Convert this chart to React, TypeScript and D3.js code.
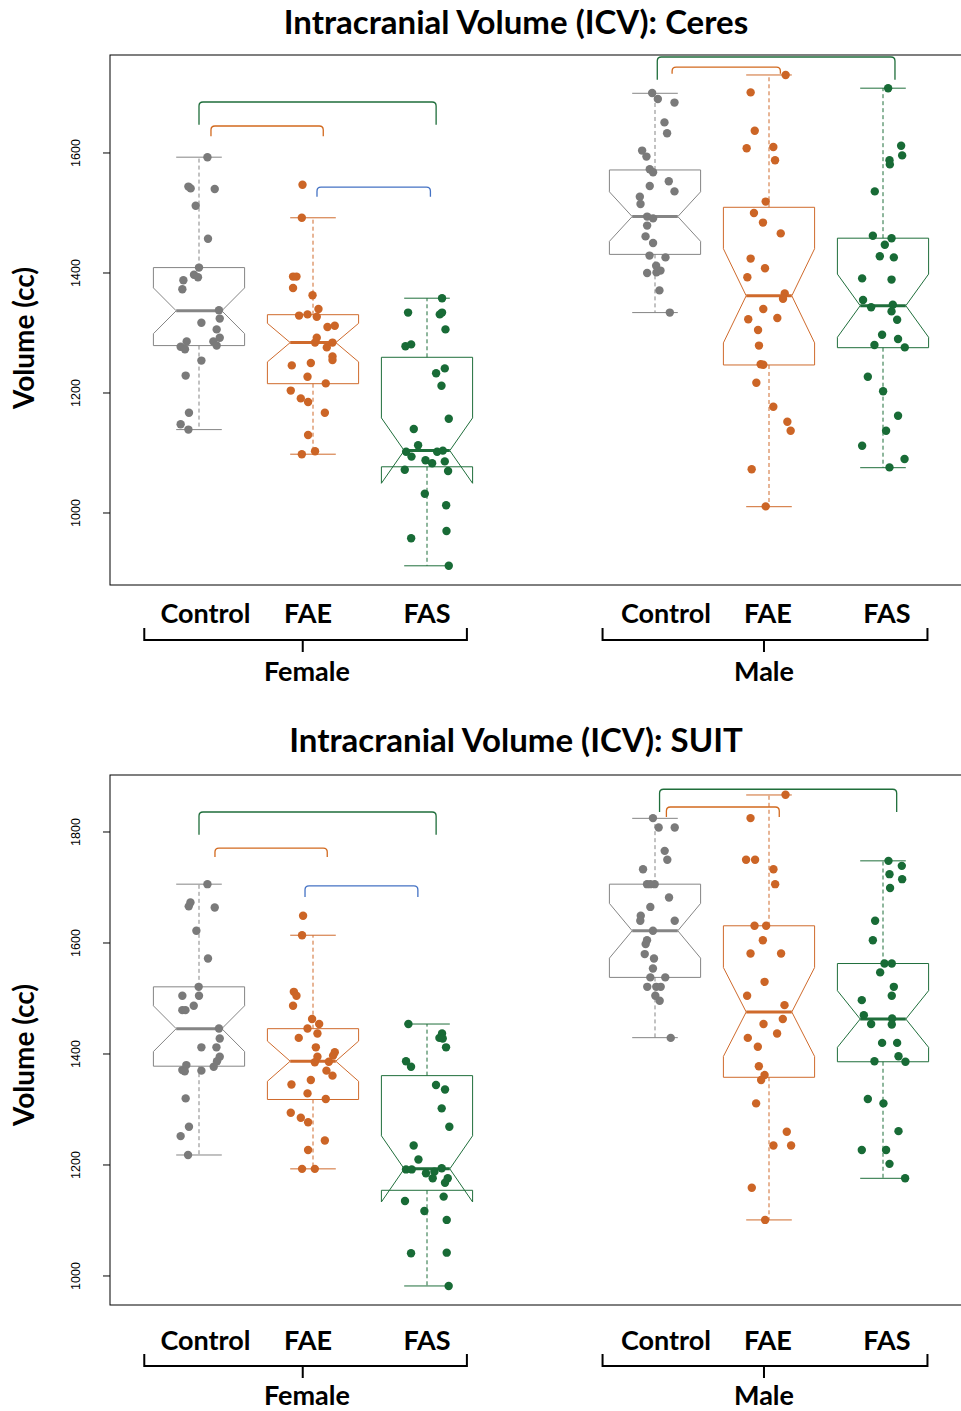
import React from "react";
import * as d3 from "d3";

// ---- categories ----
const GROUPS = ["Control", "FAE", "FAS"];
const SEXES = ["Female", "Male"];
const GROUP_POS = [1, 2, 3, 5, 6, 7];
const GROUP_COLORS = ["#7a7a7a", "#cc6526", "#186b36"];
const BOX_COLORS = ["#858585", "#cf6a2c", "#1f6e3b"];

// ---- Ceres: individual volumes (cc) and horizontal jitter (category units) ----
const ceresFemaleControl = [1593, 1544, 1541, 1540, 1512, 1457, 1409, 1397, 1393, 1388, 1373, 1338, 1324, 1317, 1306, 1292, 1286, 1279, 1286, 1277, 1273, 1254, 1229, 1167, 1148, 1139];
const ceresFemaleControlJitter = [0.074, -0.093, -0.073, 0.138, -0.029, 0.079, 0, -0.044, -0.009, -0.137, -0.146, 0.175, 0.182, 0.021, 0.155, 0.182, 0.126, 0.155, -0.108, -0.161, -0.123, 0.021, -0.117, -0.088, -0.161, -0.093];
const ceresFemaleFAE = [1547, 1492, 1394, 1394, 1375, 1363, 1340, 1329, 1331, 1327, 1310, 1312, 1292, 1284, 1284, 1276, 1261, 1255, 1246, 1250, 1227, 1216, 1204, 1191, 1185, 1167, 1130, 1103, 1098];
const ceresFemaleFAEJitter = [-0.092, -0.098, -0.175, -0.145, -0.175, -0.004, 0.048, -0.122, -0.048, 0.033, 0.127, 0.191, 0.033, 0.018, 0.171, 0.121, 0.171, 0.171, -0.186, -0.019, -0.048, 0.112, -0.195, -0.107, -0.043, 0.104, -0.043, 0.018, -0.098];
const ceresFemaleFAS = [1358, 1334, 1331, 1334, 1306, 1278, 1281, 1241, 1233, 1212, 1157, 1140, 1113, 1102, 1094, 1102, 1104, 1088, 1083, 1086, 1072, 1070, 1032, 1013, 970, 958, 912];
const ceresFemaleFASJitter = [0.132, -0.166, 0.112, 0.132, 0.162, -0.189, -0.139, 0.156, 0.08, 0.127, 0.191, -0.116, -0.078, -0.183, -0.136, 0.089, 0.139, -0.013, 0.045, 0.156, -0.195, 0.185, -0.019, 0.168, 0.171, -0.139, 0.191];
const ceresMaleControl = [1700, 1690, 1684, 1651, 1633, 1604, 1594, 1573, 1568, 1553, 1545, 1536, 1527, 1515, 1494, 1491, 1479, 1461, 1450, 1429, 1426, 1412, 1404, 1401, 1400, 1371, 1334];
const ceresMaleControlJitter = [-0.025, 0.025, 0.171, 0.083, 0.106, -0.113, -0.075, -0.046, -0.017, 0.121, -0.046, 0.171, -0.133, -0.127, -0.069, -0.017, -0.069, -0.083, -0.017, -0.048, 0.092, 0.01, 0.048, 0.013, -0.069, 0.039, 0.13];
const ceresMaleFAE = [1730, 1701, 1637, 1608, 1610, 1588, 1519, 1500, 1484, 1466, 1424, 1408, 1393, 1366, 1357, 1340, 1323, 1325, 1305, 1279, 1248, 1247, 1217, 1177, 1152, 1137, 1073, 1011];
const ceresMaleFAEJitter = [0.146, -0.161, -0.125, -0.196, 0.038, 0.053, -0.029, -0.132, -0.053, 0.103, -0.161, -0.035, -0.19, 0.138, 0.123, -0.05, -0.182, 0.073, -0.096, -0.088, -0.073, -0.05, -0.111, 0.038, 0.161, 0.19, -0.152, -0.029];
const ceresMaleFAS = [1708, 1612, 1596, 1588, 1581, 1536, 1462, 1458, 1447, 1428, 1426, 1391, 1389, 1355, 1343, 1347, 1336, 1322, 1297, 1290, 1280, 1276, 1227, 1203, 1162, 1137, 1112, 1090, 1076];
const ceresMaleFASJitter = [0.045, 0.159, 0.168, 0.057, 0.06, -0.072, -0.089, 0.075, 0.016, -0.028, 0.095, -0.183, 0.075, -0.175, -0.104, 0.086, 0.075, 0.124, -0.008, 0.132, -0.075, 0.191, -0.133, 0.001, 0.132, 0.027, -0.183, 0.189, 0.057];

// box statistics: [lower whisker, Q1, median, Q3, upper whisker]
const ceresBoxStats = [
  [1139, 1279, 1337, 1409, 1593],
  [1098, 1215.5, 1284, 1330.5, 1492],
  [912, 1077, 1104, 1259.5, 1358],
  [1334, 1431, 1494, 1571.7, 1699.5],
  [1010.5, 1246.7, 1362, 1509.5, 1730],
  [1075.5, 1275.5, 1345.5, 1458, 1708],
];
const ceresN = [29, 32, 28, 29, 28, 30];
const ceresTicks = [1000, 1200, 1400, 1600];

// ---- SUIT ----
const suitFemaleControl = [1706, 1673, 1666, 1664, 1622, 1572, 1521, 1505, 1505, 1487, 1479, 1479, 1446, 1428, 1412, 1412, 1395, 1387, 1377, 1380, 1371, 1369, 1370, 1320, 1269, 1252, 1218];
const suitFemaleControlJitter = [0.074, -0.075, -0.09, 0.138, -0.023, 0.079, -0.003, -0.146, 0, -0.046, -0.146, -0.119, 0.175, 0.182, 0.021, 0.153, 0.182, 0.158, 0.129, -0.111, -0.146, -0.125, 0.021, -0.117, -0.088, -0.161, -0.096];
const suitFemaleFAE = [1649, 1614, 1512, 1505, 1487, 1463, 1454, 1446, 1437, 1429, 1412, 1403, 1397, 1395, 1385, 1386, 1370, 1361, 1345, 1353, 1329, 1319, 1294, 1285, 1277, 1244, 1227, 1193, 1193];
const suitFemaleFAEJitter = [-0.087, -0.096, -0.168, -0.145, -0.175, -0.008, 0.054, -0.048, 0.039, -0.125, 0.025, 0.191, 0.176, 0.039, 0.016, 0.139, 0.118, 0.171, -0.189, -0.019, -0.048, 0.112, -0.195, -0.107, -0.043, 0.104, -0.043, -0.096, 0.016];
const suitFemaleFAS = [1454, 1437, 1429, 1428, 1412, 1387, 1377, 1344, 1336, 1302, 1269, 1235, 1210, 1192, 1192, 1194, 1185, 1188, 1176, 1176, 1168, 1143, 1135, 1117, 1101, 1041, 1042, 982];
const suitFemaleFASJitter = [-0.163, 0.132, 0.109, 0.138, 0.167, -0.184, -0.14, 0.079, 0.158, 0.129, 0.196, -0.117, -0.075, -0.184, -0.134, 0.129, -0.009, 0.065, 0.05, 0.182, 0.158, 0.146, -0.193, -0.023, 0.173, -0.14, 0.173, 0.19];
const suitMaleControl = [1825, 1808, 1808, 1766, 1750, 1733, 1706, 1706, 1706, 1682, 1665, 1649, 1640, 1640, 1622, 1605, 1598, 1580, 1572, 1554, 1538, 1538, 1521, 1521, 1521, 1505, 1496, 1429];
const suitMaleControlJitter = [-0.018, 0.032, 0.173, 0.085, 0.108, -0.105, -0.07, -0.003, -0.041, 0.123, -0.041, -0.125, -0.129, 0.173, -0.018, -0.07, -0.082, -0.09, -0.009, -0.018, -0.041, 0.09, -0.068, 0.011, 0.05, 0.003, 0.041, 0.138];
const suitMaleFAE = [1867, 1825, 1750, 1750, 1733, 1706, 1631, 1631, 1605, 1581, 1581, 1530, 1505, 1488, 1463, 1454, 1437, 1429, 1413, 1378, 1362, 1353, 1311, 1260, 1235, 1235, 1159, 1101];
const suitMaleFAEJitter = [0.145, -0.162, -0.201, -0.122, 0.039, 0.054, -0.127, -0.025, -0.054, -0.162, 0.106, -0.039, -0.192, 0.136, 0.121, -0.048, 0.071, -0.186, -0.098, -0.089, -0.039, -0.069, -0.113, 0.156, 0.039, 0.194, -0.151, -0.034];
const suitMaleFAS = [1748, 1739, 1724, 1715, 1699, 1640, 1605, 1563, 1563, 1547, 1521, 1505, 1497, 1470, 1454, 1464, 1453, 1420, 1420, 1396, 1387, 1386, 1319, 1311, 1261, 1227, 1227, 1202, 1176];
const suitMaleFASJitter = [0.048, 0.165, 0.057, 0.168, 0.062, -0.069, -0.089, 0.013, 0.077, -0.025, 0.095, 0.077, -0.186, -0.168, -0.104, 0.08, 0.077, -0.008, 0.124, 0.136, -0.075, 0.197, -0.133, 0.004, 0.136, -0.186, 0.027, 0.057, 0.194];

const suitBoxStats = [
  [1218, 1378, 1445.6, 1521, 1706],
  [1193, 1318, 1387, 1445.6, 1614],
  [982, 1154.4, 1193, 1361, 1454],
  [1429.4, 1538, 1622, 1706, 1824.6],
  [1101, 1358, 1475.7, 1631, 1866.7],
  [1176, 1386, 1463, 1563, 1748],
];
const suitN = [30, 31, 30, 29, 29, 30];
const suitTicks = [1000, 1200, 1400, 1600, 1800];

// ---- significance brackets: [x from, x to, bar level, leg end level, colour index] ----
const BRACKET_COLORS = ["#1f6e3b", "#d2691e", "#4472c4"];
const ceresBrackets = [
  [1.0, 3.08, 1685, 1647, 0],
  [1.105, 2.09, 1645, 1628, 1],
  [2.035, 3.03, 1543, 1527, 2],
  [5.02, 7.105, 1760, 1722, 0],
  [5.15, 6.1, 1743, 1732, 1],
];
const suitBrackets = [
  [1.0, 3.08, 1836, 1795, 0],
  [1.14, 2.125, 1771, 1755, 1],
  [1.93, 2.92, 1703, 1683, 2],
  [5.04, 7.12, 1877, 1836, 0],
  [5.1, 6.09, 1845, 1827, 1],
];

// ---- layout ----
const W = 961;
const H = 1411;
const FONT = "Lato, 'Open Sans', sans-serif";
const TICK_FONT = "'Liberation Sans', Arial, sans-serif";
const x = d3.scaleLinear().domain([1, 7]).range([199, 883]);
const FRAME_LEFT = 110;
const FRAME_RIGHT = 1000;
const HALF_BOX = 0.4;
const LABEL_POS = [1.057, 1.956, 3.0, 5.096, 5.99, 7.035];
const SEX_SPANS = [
  [0.52, 3.35, 1.91, 1.947],
  [4.54, 7.39, 5.956, 5.956],
];

type PanelProps = {
  title: string;
  top: number;
  bottom: number;
  domain: [number, number];
  titleY: number;
  ylabY: number;
  labelY: number;
  bracketY: number;
  sexY: number;
  ticks: number[];
  stats: number[][];
  ns: number[];
  values: number[][];
  jitters: number[][];
  brackets: number[][];
};

function Panel(p: PanelProps) {
  const y = d3.scaleLinear().domain(p.domain).range([p.bottom, p.top]);
  const wd = x(1 + HALF_BOX) - x(1);
  const wn = wd / 2;

  const bracketPath = (b: number[]) => {
    const x1 = x(b[0]);
    const x2 = x(b[1]);
    const yt = y(b[2]);
    const yl = y(b[3]);
    const r = 4;
    return `M${x1},${yl}L${x1},${yt + r}Q${x1},${yt} ${x1 + r},${yt}L${x2 - r},${yt}Q${x2},${yt} ${x2},${yt + r}L${x2},${yl}`;
  };

  return (
    <g>
      <text x={516} y={p.titleY} textAnchor="middle" fontFamily={FONT} fontWeight={700} fontSize={33} fill="#000">
        {p.title}
      </text>
      {/* plot frame */}
      <rect x={FRAME_LEFT} y={p.top} width={FRAME_RIGHT - FRAME_LEFT} height={p.bottom - p.top} fill="none" stroke="#000" strokeWidth={1} />
      {/* y axis */}
      {p.ticks.map((t) => (
        <g key={t}>
          <line x1={FRAME_LEFT - 7} x2={FRAME_LEFT} y1={y(t)} y2={y(t)} stroke="#000" strokeWidth={1} />
          <text transform={`translate(80,${y(t)}) rotate(-90)`} textAnchor="middle" fontFamily={TICK_FONT} fontSize={12.5} fill="#000">
            {t}
          </text>
        </g>
      ))}
      <text transform={`translate(34,${p.ylabY}) rotate(-90)`} textAnchor="middle" fontFamily={FONT} fontWeight={700} fontSize={28} fill="#000">
        Volume (cc)
      </text>
      {/* significance brackets */}
      {p.brackets.map((b, i) => (
        <path key={i} d={bracketPath(b)} fill="none" stroke={BRACKET_COLORS[b[4]]} strokeWidth={1.3} />
      ))}
      {/* notched boxes */}
      {p.stats.map((s, i) => {
        const cx = x(GROUP_POS[i]);
        const col = BOX_COLORS[i % 3];
        const [lo, q1, med, q3, hi] = s;
        const notch = (1.58 * (q3 - q1)) / Math.sqrt(p.ns[i]);
        const nl = med - notch;
        const nu = med + notch;
        const pts: [number, number][] = [
          [cx - wd, y(q1)],
          [cx - wd, y(nl)],
          [cx - wn, y(med)],
          [cx - wd, y(nu)],
          [cx - wd, y(q3)],
          [cx + wd, y(q3)],
          [cx + wd, y(nu)],
          [cx + wn, y(med)],
          [cx + wd, y(nl)],
          [cx + wd, y(q1)],
        ];
        return (
          <g key={i}>
            <line x1={cx} x2={cx} y1={y(q3)} y2={y(hi)} stroke={col} strokeWidth={1} strokeDasharray="4,3" />
            <line x1={cx} x2={cx} y1={y(q1)} y2={y(lo)} stroke={col} strokeWidth={1} strokeDasharray="4,3" />
            <line x1={cx - wn} x2={cx + wn} y1={y(hi)} y2={y(hi)} stroke={col} strokeWidth={1} />
            <line x1={cx - wn} x2={cx + wn} y1={y(lo)} y2={y(lo)} stroke={col} strokeWidth={1} />
            <polygon points={pts.map((q) => q.join(",")).join(" ")} fill="none" stroke={col} strokeWidth={1} />
            <line x1={cx - wn} x2={cx + wn} y1={y(med)} y2={y(med)} stroke={col} strokeWidth={3} />
          </g>
        );
      })}
      {/* jittered observations */}
      {p.values.map((vals, i) =>
        vals.map((v, j) => (
          <circle key={`${i}-${j}`} cx={x(GROUP_POS[i] + p.jitters[i][j])} cy={y(v)} r={4.2} fill={GROUP_COLORS[i % 3]} />
        ))
      )}
      {/* group labels */}
      {LABEL_POS.map((pos, i) => (
        <text key={i} x={x(pos)} y={p.labelY} textAnchor="middle" fontFamily={FONT} fontWeight={700} fontSize={27} fill="#000">
          {GROUPS[i % 3]}
        </text>
      ))}
      {SEX_SPANS.map((sp, i) => (
        <g key={i}>
          <path
            d={`M${x(sp[0])},${p.bracketY - 12}L${x(sp[0])},${p.bracketY}L${x(sp[1])},${p.bracketY}L${x(sp[1])},${p.bracketY - 12}M${x(sp[2])},${p.bracketY}L${x(sp[2])},${p.bracketY + 12}`}
            fill="none"
            stroke="#000"
            strokeWidth={2}
          />
          <text x={x(sp[3])} y={p.sexY} textAnchor="middle" fontFamily={FONT} fontWeight={700} fontSize={27} fill="#000">
            {SEXES[i]}
          </text>
        </g>
      ))}
    </g>
  );
}

export default function App() {
  return (
    <svg
      width={W}
      height={H}
      viewBox={`0 0 ${W} ${H}`}
      style={{ position: "absolute", left: 0, top: 0, display: "block", background: "#fff", overflow: "hidden" }}
    >
      <rect width={W} height={H} fill="#fff" />
      <Panel
        title="Intracranial Volume (ICV): Ceres"
        top={55}
        bottom={585}
        domain={[880, 1763.3]}
        titleY={34}
        ylabY={338}
        labelY={623}
        bracketY={640}
        sexY={681}
        ticks={ceresTicks}
        stats={ceresBoxStats}
        ns={ceresN}
        values={[ceresFemaleControl, ceresFemaleFAE, ceresFemaleFAS, ceresMaleControl, ceresMaleFAE, ceresMaleFAS]}
        jitters={[ceresFemaleControlJitter, ceresFemaleFAEJitter, ceresFemaleFASJitter, ceresMaleControlJitter, ceresMaleFAEJitter, ceresMaleFASJitter]}
        brackets={ceresBrackets}
      />
      <Panel
        title="Intracranial Volume (ICV): SUIT"
        top={775}
        bottom={1305}
        domain={[947.7, 1902.7]}
        titleY={752}
        ylabY={1055}
        labelY={1350}
        bracketY={1366}
        sexY={1405}
        ticks={suitTicks}
        stats={suitBoxStats}
        ns={suitN}
        values={[suitFemaleControl, suitFemaleFAE, suitFemaleFAS, suitMaleControl, suitMaleFAE, suitMaleFAS]}
        jitters={[suitFemaleControlJitter, suitFemaleFAEJitter, suitFemaleFASJitter, suitMaleControlJitter, suitMaleFAEJitter, suitMaleFASJitter]}
        brackets={suitBrackets}
      />
    </svg>
  );
}
